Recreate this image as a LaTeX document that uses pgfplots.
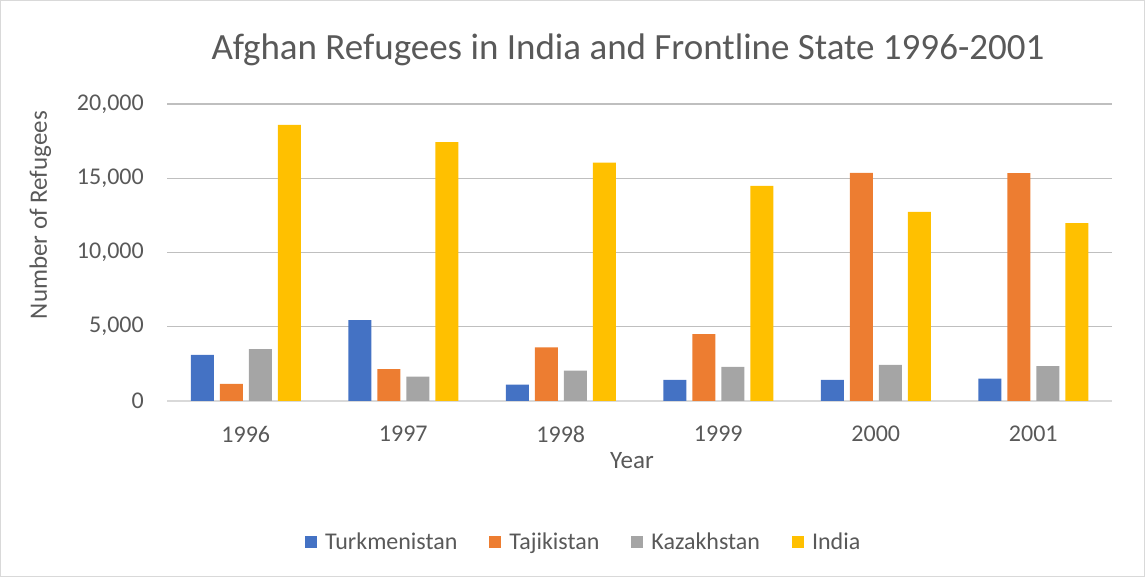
\documentclass[border=0pt]{standalone}
\usepackage{pgfplots}
\pgfplotsset{compat=1.18}
\usepackage{fontspec}
\setmainfont{Carlito}
\definecolor{cBlue}{HTML}{4472C4}
\definecolor{cOrange}{HTML}{ED7D31}
\definecolor{cGrey}{HTML}{A5A5A5}
\definecolor{cGold}{HTML}{FFC000}
\definecolor{txt}{HTML}{595959}
\definecolor{grid}{HTML}{D9D9D9}
\begin{document}
\begin{tikzpicture}[x=1pt,y=1pt]
\draw[grid, line width=1pt] (0.5,0.5) rectangle (1144.5,576.5);
\node[text=txt, font=\fontsize{37}{42}\selectfont] at (628,527) {Afghan Refugees in India and Frontline State 1996-2001};
\begin{axis}[
  at={(167pt,176pt)}, anchor=south west,
  scale only axis, width=945pt, height=297pt,
  ymin=0, ymax=20000, xmin=-0.5, xmax=5.5,
  ybar=6pt, bar width=23pt,
  xtick={0,1,2,3,4,5},
  xticklabels={1996,1997,1998,1999,2000,2001},
  ytick={0,5000,10000,15000,20000},
  scaled y ticks=false,
  /pgf/number format/1000 sep={,},
  /pgf/number format/assume math mode=true,
  axis lines*=left,
  y axis line style={draw=none},
  x axis line style={draw=grid, line width=1.5pt},
  major tick length=0pt,
  xmajorgrids=false,
  ymajorgrids, grid style={grid, line width=1.3pt},
  tick label style={text=txt, font=\fontsize{24}{28}\selectfont},
  yticklabel style={anchor=east, inner sep=0pt, xshift=-23pt},
  xticklabel style={anchor=north, inner sep=0pt, yshift=-25pt},
  xlabel={Year},
  ylabel={Number of Refugees},
  xlabel style={at={(rel axis cs:0.492,-0.202)}, anchor=center, text=txt, font=\fontsize{25}{30}\selectfont, inner sep=0pt},
  ylabel style={at={(rel axis cs:-0.134,0.626)}, anchor=center, rotate=0, text=txt, font=\fontsize{25}{30}\selectfont, inner sep=0pt},
  legend columns=4,
  legend style={at={(0.441,-0.475)}, anchor=center, draw=none, fill=none,
    font=\fontsize{24}{28}\selectfont, text=txt,
    /tikz/every odd column/.append style={column sep=6pt},
    /tikz/every even column/.append style={column sep=30pt}},
  legend image code/.code={\fill[#1,draw=none] (0pt,-6pt) rectangle (12pt,6pt);},
]
\addplot[fill=cBlue, draw=none] coordinates {(0,3100) (1,5450) (2,1100) (3,1430) (4,1430) (5,1500)};
\addplot[fill=cOrange, draw=none] coordinates {(0,1150) (1,2150) (2,3610) (3,4500) (4,15360) (5,15340)};
\addplot[fill=cGrey, draw=none] coordinates {(0,3500) (1,1640) (2,2040) (3,2290) (4,2440) (5,2350)};
\addplot[fill=cGold, draw=none] coordinates {(0,18600) (1,17440) (2,16050) (3,14480) (4,12740) (5,11970)};
\legend{Turkmenistan,Tajikistan,Kazakhstan,India}
\end{axis}
\end{tikzpicture}
\end{document}
